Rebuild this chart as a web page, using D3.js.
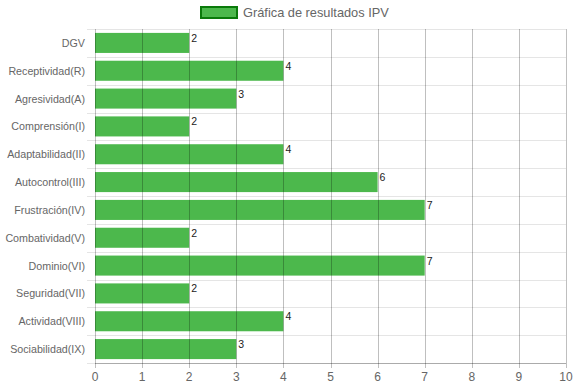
<!DOCTYPE html>
<html>
<head>
<meta charset="utf-8">
<script src="https://cdn.jsdelivr.net/npm/d3@7.9.0/dist/d3.min.js"></script>
<style>
  body { margin: 0; background: #fff; }
  svg { display: block; font-family: "Liberation Sans", Arial, sans-serif; }
</style>
</head>
<body>
<svg id="chart" width="575" height="387"></svg>
<script>
// categories and values
const categories = [
  'DGV', 'Receptividad(R)', 'Agresividad(A)', 'Comprensión(I)',
  'Adaptabilidad(II)', 'Autocontrol(III)', 'Frustración(IV)', 'Combatividad(V)',
  'Dominio(VI)', 'Seguridad(VII)', 'Actividad(VIII)', 'Sociabilidad(IX)'
];
const values = [2, 4, 3, 2, 4, 6, 7, 2, 7, 2, 4, 3];
const xTicks = [0, 1, 2, 3, 4, 5, 6, 7, 8, 9, 10];
const seriesName = 'Gráfica de resultados IPV';

const svg = d3.select('#chart');
const margin = { top: 29, right: 9, bottom: 24, left: 95 };
const width = 575, height = 387;

const x = d3.scaleLinear()
  .domain([0, 10])
  .range([margin.left, width - margin.right]);

const y = d3.scaleBand()
  .domain(categories)
  .range([margin.top, height - margin.bottom])
  .paddingInner(0.28)
  .paddingOuter(0.14);

const band = d3.scaleBand().domain(categories)
  .range([margin.top, height - margin.bottom]);

// horizontal gridlines between categories
const hLines = d3.range(categories.length + 1).map(i => margin.top + i * band.step());
svg.append('g')
  .selectAll('line')
  .data(hLines)
  .join('line')
  .attr('x1', margin.left - 8)
  .attr('x2', width - margin.right)
  .attr('y1', d => Math.round(d) + 0.5)
  .attr('y2', d => Math.round(d) + 0.5)
  .attr('stroke', 'rgba(0,0,0,0.1)');

// bars
svg.append('g')
  .selectAll('rect')
  .data(values)
  .join('rect')
  .attr('x', x(0))
  .attr('y', (d, i) => y(categories[i]))
  .attr('width', d => x(d) - x(0))
  .attr('height', y.bandwidth())
  .attr('fill', '#4cb84c');

// vertical gridlines (drawn over bars)
svg.append('g')
  .selectAll('line')
  .data(xTicks)
  .join('line')
  .attr('x1', d => Math.round(x(d)) + 0.5)
  .attr('x2', d => Math.round(x(d)) + 0.5)
  .attr('y1', margin.top)
  .attr('y2', height - margin.bottom + 5)
  .attr('stroke', 'rgba(0,0,0,0.25)');

// bottom axis line
svg.append('line')
  .attr('x1', margin.left)
  .attr('x2', width - margin.right)
  .attr('y1', height - margin.bottom + 0.5)
  .attr('y2', height - margin.bottom + 0.5)
  .attr('stroke', 'rgba(0,0,0,0.25)');

// x tick labels
svg.append('g')
  .selectAll('text')
  .data(xTicks)
  .join('text')
  .attr('x', d => x(d))
  .attr('y', height - 6)
  .attr('text-anchor', 'middle')
  .attr('font-size', 12)
  .attr('fill', '#666')
  .text(d => d);

// category labels
svg.append('g')
  .selectAll('text')
  .data(categories)
  .join('text')
  .attr('x', margin.left - 10)
  .attr('y', d => band(d) + band.step() / 2 + 4)
  .attr('text-anchor', 'end')
  .attr('font-size', 10.7)
  .attr('fill', '#666')
  .text(d => d);

// value labels at the bar ends
svg.append('g')
  .selectAll('text')
  .data(values)
  .join('text')
  .attr('x', d => x(d) + 2)
  .attr('y', (d, i) => y(categories[i]) + 9)
  .attr('font-size', 10.5)
  .attr('fill', '#222')
  .text(d => d);

// legend
const lg = svg.append('g');
lg.append('rect')
  .attr('x', 201)
  .attr('y', 7)
  .attr('width', 36)
  .attr('height', 11)
  .attr('fill', '#4cb84c')
  .attr('stroke', '#0a7a0a')
  .attr('stroke-width', 2);
lg.append('text')
  .attr('x', 243)
  .attr('y', 17)
  .attr('font-size', 12.8)
  .attr('fill', '#666')
  .text(seriesName);
</script>
</body>
</html>
